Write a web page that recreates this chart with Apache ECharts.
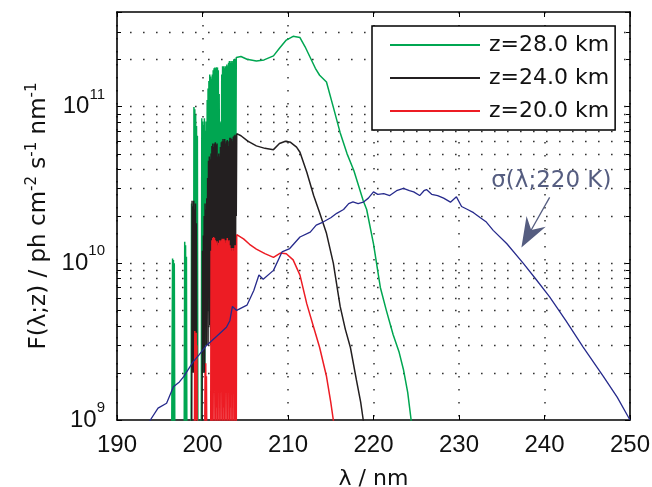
<!DOCTYPE html>
<html><head><meta charset="utf-8">
<script src="https://cdn.jsdelivr.net/npm/echarts@6/dist/echarts.min.js"></script>
<style>html,body{margin:0;padding:0;background:#fff}#c{width:652px;height:487px}</style>
</head><body><div id="c"></div>
<script>
// ---- data (λ in nm, flux in ph cm^-2 s^-1 nm^-1) ----
const xTicks = [190, 200, 210, 220, 230, 240, 250];
const yTicks = [1e9, 1e10, 1e11];
const gridY = [2e9,3e9,4e9,5e9,6e9,7e9,8e9,9e9,1e10,2e10,3e10,4e10,5e10,6e10,7e10,8e10,9e10,1e11,2e11,3e11];
const seriesNames = ['z=28.0 km', 'z=24.0 km', 'z=20.0 km'];

const green = [
 [196.40,8e8],[196.50,1.07e10],[196.55,8e8],[196.60,1.05e10],[196.65,9e8],[196.70,1.0e10],[196.76,8e8],
 [197.86,8e8],[197.92,1.37e10],[197.97,8e8],[198.02,1.3e10],[198.07,9e8],[198.12,1.1e10],[198.17,8e8],
 [198.66,8e8],[198.72,2.4e10],[198.77,4e9],[198.82,2.3e10],[198.88,6e9],[198.92,1.9e10],[198.96,3e9],
 [199.00,9.9e10],[199.05,4e9],[199.10,9.6e10],[199.15,3e9],[199.20,8.8e10],[199.25,5e9],[199.30,7.5e10],[199.36,3e9],[199.40,6.5e10],[199.46,8e8],
 [199.86,8e8],[199.92,8.4e10],[199.97,3e9],[200.02,8e10],[200.07,2e9],[200.12,7.6e10],[200.17,4e9],[200.22,8.4e10],[200.27,2e9],[200.32,7e10],[200.37,3e9],[200.42,8e10],[200.47,5e9],
 [200.55,1.1e11],[200.60,8e9],[200.65,1.3e11],[200.70,5e9],[200.75,1.45e11],[200.80,1e10],[200.85,1.6e11],[200.90,6e9],[200.95,1.55e11],[201.00,2e10],[201.05,1.5e11],[201.10,8e9],[201.15,1.6e11],[201.20,3e10],[201.25,1.7e11],[201.30,1e10],[201.35,1.75e11],[201.40,2e10],[201.45,1.77e11],[201.50,8e9],[201.55,1.75e11],[201.60,4e10],[201.65,1.78e11],[201.70,1.5e10],[201.75,1.77e11],[201.80,3e10],[201.85,1.7e11],[201.90,1e10],[201.95,1.2e11],[202.00,2e10],[202.05,7.8e10],[202.10,1.5e10],[202.15,8e10],[202.20,2e10],[202.25,1.6e11],[202.30,2.5e10],[202.35,1.8e11],[202.40,1e10],[202.45,1.8e11],[202.50,3e10],[202.55,1.75e11],[202.60,1.2e10],[202.65,1.8e11],[202.70,4e10],[202.75,1.8e11],[202.80,1.5e10],[202.85,1.85e11],[202.90,3e10],[202.95,1.8e11],[203.00,2e10],[203.05,1.9e11],[203.10,4e10],[203.15,1.95e11],[203.20,1.2e10],[203.25,1.9e11],[203.30,3e10],[203.35,1.95e11],[203.40,1.8e10],[203.45,1.9e11],[203.50,5e10],[203.55,1.95e11],[203.60,2e10],[203.65,2e11],[203.70,3.5e10],[203.75,2e11],[203.80,1.5e10],[203.85,2e11],[203.90,4e10],[203.95,2.05e11],
 [204.0,2.06e11],[204.5,2.08e11],[205.2,2.0e11],[206.3,1.95e11],[207.2,1.98e11],[208.3,2.1e11],[209.0,2.35e11],[209.8,2.65e11],[210.6,2.8e11],[211.4,2.75e11],[212.0,2.4e11],[212.6,2.05e11],[213.2,1.75e11],[213.7,1.58e11],[214.5,1.43e11],[215.3,9.9e10],[216.1,6.8e10],[216.9,5.0e10],[217.7,3.9e10],[218.8,2.5e10],[219.2,2.2e10],[220.0,1.33e10],[220.8,7.0e9],[221.5,5.0e9],[222.3,3.5e9],[223.0,2.7e9],[223.5,2.1e9],[224.0,1.5e9],[224.4,1.0e9],[224.6,8e8]
];

const black = [
 [198.74,8e8],[198.78,2.5e10],[198.83,3e9],[198.88,2.3e10],[198.93,2e9],[198.98,2.5e10],[199.03,4e9],[199.08,2.2e10],[199.13,2e9],[199.18,2.4e10],[199.23,3e9],[199.28,1.8e10],[199.33,8e8],
 [199.95,8e8],[200.00,1.2e10],[200.05,2e9],[200.10,1.5e10],[200.15,3e9],[200.20,2.0e10],[200.25,2e9],[200.30,2.4e10],[200.35,4e9],[200.40,2.2e10],[200.45,3e9],[200.50,2.6e10],[200.55,5e9],[200.60,3.5e10],[200.65,3e9],[200.70,4.5e10],[200.75,6e9],[200.80,4.8e10],[200.85,4e9],[200.90,4.6e10],[200.95,3e9],[201.00,5.0e10],[201.05,5e9],[201.10,5.6e10],[201.15,3e9],[201.20,5.8e10],[201.25,8e9],[201.30,5.5e10],[201.35,2e9],[201.40,5.8e10],[201.45,6e9],[201.50,5.9e10],[201.55,3e9],[201.60,5.7e10],[201.65,1e10],[201.70,5.8e10],[201.75,4e9],[201.80,4.8e10],[201.85,2e9],[201.90,5.0e10],[201.95,7e9],[202.00,4.8e10],[202.05,3e9],[202.10,5.5e10],[202.15,6e9],[202.20,5.9e10],[202.25,2e9],[202.30,6.0e10],[202.35,8e9],[202.40,6.2e10],[202.45,3e9],[202.50,6.0e10],[202.55,5e9],[202.60,6.2e10],[202.65,2e9],[202.70,5.8e10],[202.75,9e9],[202.80,6.0e10],[202.85,4e9],[202.90,6.1e10],[202.95,2e9],[203.00,5.6e10],[203.05,7e9],[203.10,6.0e10],[203.15,3e9],[203.20,6.3e10],[203.25,1e10],[203.30,6.3e10],[203.35,4e9],[203.40,6.2e10],[203.45,2e9],[203.50,6.0e10],[203.55,6e9],[203.60,6.4e10],[203.65,3e9],[203.70,6.5e10],[203.75,8e9],[203.80,6.6e10],[203.85,4e9],[203.90,6.5e10],[203.95,2e10],
 [204.0,6.7e10],[204.5,6.5e10],[205.3,6.0e10],[206.3,5.6e10],[207.3,5.4e10],[208.3,5.3e10],[209.0,5.8e10],[209.7,6.0e10],[210.3,5.9e10],[211.0,5.5e10],[211.4,5.1e10],[212.2,3.8e10],[213.0,2.7e10],[213.7,2.1e10],[214.5,1.55e10],[215.3,1.0e10],[216.1,5.3e9],[216.7,3.8e9],[217.3,2.9e9],[218.0,1.8e9],[218.5,1.3e9],[218.8,1.0e9],[219.0,8e8]
];

const red = [
 [199.06,8e8],[199.10,3.7e9],[199.14,8e8],[199.18,3.5e9],[199.22,1e9],[199.26,3.6e9],[199.30,1.2e9],[199.34,3.0e9],[199.38,8e8],
 [200.26,8e8],[200.30,2.0e9],[200.34,8e8],[200.38,2.3e9],[200.42,8e8],[200.46,1.9e9],[200.50,8e8],
 [200.96,8e8],[201.00,1.2e10],[201.05,9e8],[201.10,1.4e10],[201.15,8e8],[201.20,1.45e10],[201.25,1.5e9],[201.30,1.47e10],[201.35,8e8],[201.40,1.45e10],[201.45,2e9],[201.50,1.4e10],[201.55,8e8],[201.60,1.35e10],[201.65,1.2e9],[201.70,1.38e10],[201.75,8e8],[201.80,1.3e10],[201.85,2.5e9],[201.90,1.35e10],[201.95,8e8],[202.00,1.4e10],[202.05,1.5e9],[202.10,1.38e10],[202.15,8e8],[202.20,1.4e10],[202.25,3e9],[202.30,1.43e10],[202.35,8e8],[202.40,1.42e10],[202.45,1.2e9],[202.50,1.43e10],[202.55,8e8],[202.60,1.4e10],[202.65,2e9],[202.70,1.35e10],[202.75,8e8],[202.80,1.4e10],[202.85,1.5e9],[202.90,1.45e10],[202.95,8e8],[203.00,1.38e10],[203.05,2.5e9],[203.10,1.4e10],[203.15,8e8],[203.20,1.3e10],[203.25,1.2e9],[203.30,1.25e10],[203.35,8e8],[203.40,1.2e10],[203.45,2e9],[203.50,1.25e10],[203.55,8e8],[203.60,1.2e10],[203.65,1.5e9],[203.70,1.25e10],[203.75,8e8],[203.80,1.3e10],[203.85,1e9],[203.90,1.3e10],[203.95,8e8],
 [204.0,1.52e10],[204.8,1.43e10],[205.5,1.32e10],[206.3,1.23e10],[207.3,1.15e10],[208.3,1.09e10],[209.1,1.16e10],[209.8,1.15e10],[210.6,1.05e10],[211.4,8.4e9],[212.2,5.5e9],[213.0,3.9e9],[213.7,2.9e9],[214.5,1.9e9],[215.0,1.3e9],[215.3,1.0e9],[215.5,8e8]
];

const sigma = [
 [193.5,9e8],[193.9,1.0e9],[194.8,1.19e9],[195.8,1.28e9],[196.6,1.63e9],[197.3,1.75e9],[197.8,1.89e9],[198.9,2.35e9],[199.6,2.6e9],[200.5,3.0e9],[201.6,3.4e9],[202.8,3.9e9],[203.2,4.3e9],[203.5,5.3e9],[204.0,5.0e9],[205.2,5.4e9],[206.0,6.7e9],[206.6,8.4e9],[207.1,7.9e9],[208.3,9.0e9],[209.3,1.18e10],[210.2,1.24e10],[211.4,1.47e10],[212.6,1.58e10],[213.3,1.75e10],[214.1,1.83e10],[215.0,1.95e10],[215.7,2.08e10],[216.5,2.2e10],[217.1,2.4e10],[217.6,2.46e10],[218.2,2.4e10],[218.8,2.45e10],[219.4,2.6e10],[220.0,2.85e10],[220.5,2.75e10],[221.2,2.78e10],[221.9,2.7e10],[222.7,2.9e10],[223.5,3.0e10],[224.2,2.9e10],[224.7,2.85e10],[225.4,2.7e10],[225.9,2.9e10],[226.2,2.95e10],[226.8,2.75e10],[227.5,2.7e10],[228.2,2.6e10],[229.0,2.45e10],[229.7,2.65e10],[230.3,2.3e10],[231.0,2.2e10],[231.7,2.1e10],[232.5,1.95e10],[233.2,1.83e10],[234.0,1.62e10],[235.6,1.33e10],[237.5,1.0e10],[239.0,7.9e9],[240.6,6.1e9],[242.5,4.3e9],[244.5,2.93e9],[246.9,1.89e9],[248.5,1.4e9],[250.0,1.0e9]
];

const annText = 'σ(λ;220 K)';
const annTextAt = [240.8, 3.34e10];
const annArrowFrom = [240.6, 2.63e10];
const annArrowTo = [237.3, 1.26e10];

// ---- chart ----
const chart = echarts.init(document.getElementById('c'), null, {renderer: 'canvas'});
const AX = 'Liberation Sans, Arial, sans-serif';
const TX = 'DejaVu Sans, sans-serif';
const supRich = {
  base: {fontFamily: AX, fontSize: 24, color: '#111'},
  sup: {fontFamily: AX, fontSize: 15, color: '#111', padding: [0, 0, 24, 0]}
};
const dotDash = [1.6, 11.4];
const cols = ['#00a651', '#231f20', '#ed1c24'];

function yLabel(v) {
  const e = Math.log10(v);
  const r = Math.round(e);
  if (Math.abs(e - r) > 1e-6) return '';
  return '{base|10}{sup|' + r + '}';
}

const option = {
  animation: false,
  backgroundColor: '#fff',
  grid: {left: 117, top: 12, right: 22, bottom: 67, containLabel: false, outerBoundsMode: 'none'},
  legend: {
    data: seriesNames,
    orient: 'vertical',
    left: 372, top: 26,
    padding: [7, 6, 7, 18],
    itemGap: 9,
    itemWidth: 90, itemHeight: 2,
    icon: 'rect',
    backgroundColor: '#fff',
    borderColor: '#000', borderWidth: 1.5,
    textStyle: {fontFamily: TX, fontSize: 22, color: '#111', lineHeight: 24, padding: [0, 0, 0, 4]}
  },
  xAxis: [{
    type: 'value', min: 190, max: 250, interval: 10, position: 'bottom',
    name: 'λ / nm', nameLocation: 'middle', nameGap: 48,
    nameTextStyle: {fontFamily: TX, fontSize: 22, color: '#111'},
    axisLine: {show: true, lineStyle: {color: '#000', width: 1.6}},
    axisTick: {show: true, inside: true, length: 5, lineStyle: {color: '#000', width: 1}},
    axisLabel: {fontFamily: AX, fontSize: 24, color: '#111', margin: 13},
    splitLine: {show: true, lineStyle: {color: '#333', width: 1.5, type: dotDash}}
  }, {
    type: 'value', min: 190, max: 250, interval: 10, position: 'top',
    axisLine: {show: true, lineStyle: {color: '#000', width: 1.6}},
    axisTick: {show: true, inside: true, length: 5, lineStyle: {color: '#000', width: 1}},
    axisLabel: {show: false}, splitLine: {show: false}
  }],
  yAxis: [{
    type: 'log', logBase: 10, min: 1e9, max: 4e11, position: 'left',
    name: 'F(λ;z) / ph cm{sup|-2} s{sup|-1} nm{sup|-1}',
    nameLocation: 'middle', nameGap: 62, nameRotate: 90,
    nameTextStyle: {fontFamily: TX, fontSize: 23, color: '#111', rich: {sup: {fontFamily: TX, fontSize: 15, color: '#111', padding: [0, 0, 15, 0]}}},
    axisLine: {show: true, lineStyle: {color: '#000', width: 1.6}},
    axisTick: {show: true, inside: true, length: 5, lineStyle: {color: '#000', width: 1}},
    axisLabel: {formatter: yLabel, margin: 12, rich: supRich},
    splitLine: {show: false}
  }, {
    type: 'log', logBase: 10, min: 1e9, max: 4e11, position: 'right',
    axisLine: {show: true, lineStyle: {color: '#000', width: 1.6}},
    axisTick: {show: true, inside: true, length: 5, lineStyle: {color: '#000', width: 1}},
    axisLabel: {show: false}, splitLine: {show: false}
  }],
  series: [
    {
      type: 'custom', name: 'grid', silent: true, z: 1, clip: false,
      data: gridY.map(v => [190, v]),
      renderItem: function (params, api) {
        const v = api.value(1);
        const p1 = api.coord([190, v]);
        const p2 = api.coord([250, v]);
        const y = Math.round(p1[1]) + 0.5;
        return {type: 'group', children: [
          {type: 'line', shape: {x1: p1[0] + 13, y1: y, x2: p2[0] - 4, y2: y},
           style: {stroke: '#333', lineWidth: 1.5, lineDash: dotDash}},
          {type: 'line', shape: {x1: p1[0], y1: y, x2: p1[0] + 4, y2: y}, style: {stroke: '#000', lineWidth: 1}},
          {type: 'line', shape: {x1: p2[0] - 4, y1: y, x2: p2[0], y2: y}, style: {stroke: '#000', lineWidth: 1}}
        ]};
      }
    },
    {name: seriesNames[0], type: 'line', data: green, symbol: 'none', z: 3,
     lineStyle: {color: cols[0], width: 1.5}, itemStyle: {color: cols[0]}},
    {name: seriesNames[1], type: 'line', data: black, symbol: 'none', z: 3,
     lineStyle: {color: cols[1], width: 1.5}, itemStyle: {color: cols[1]}},
    {name: seriesNames[2], type: 'line', data: red, symbol: 'none', z: 3,
     lineStyle: {color: cols[2], width: 1.5}, itemStyle: {color: cols[2]}},
    {name: 'sigma', type: 'line', data: sigma, symbol: 'none', z: 4,
     lineStyle: {color: '#262a8c', width: 1.3}, itemStyle: {color: '#262a8c'}}
  ]
};
chart.setOption(option);

// annotation anchored in data coordinates
const tp = chart.convertToPixel({xAxisIndex: 0, yAxisIndex: 0}, annTextAt);
const a0 = chart.convertToPixel({xAxisIndex: 0, yAxisIndex: 0}, annArrowFrom);
const a1 = chart.convertToPixel({xAxisIndex: 0, yAxisIndex: 0}, annArrowTo);
const dx = a1[0] - a0[0], dy = a1[1] - a0[1];
const L = Math.hypot(dx, dy), ux = dx / L, uy = dy / L, nx = -uy, ny = ux;
const hl = 30, hw = 11, notch = 20;
const bx = a1[0] - hl * ux, by = a1[1] - hl * uy;
const annColor = '#555d80';
chart.setOption({graphic: [
  {type: 'text', x: tp[0], y: tp[1], z: 10,
   style: {text: annText, fill: annColor, font: '23px "DejaVu Sans"', textAlign: 'center', textVerticalAlign: 'middle'}},
  {type: 'line', z: 10, shape: {x1: a0[0], y1: a0[1], x2: a1[0] - notch * ux, y2: a1[1] - notch * uy},
   style: {stroke: annColor, lineWidth: 1.3}},
  {type: 'polygon', z: 10, shape: {points: [
    [a1[0], a1[1]], [bx + hw * nx, by + hw * ny], [a1[0] - notch * ux, a1[1] - notch * uy], [bx - hw * nx, by - hw * ny]
  ]}, style: {fill: annColor}}
]});
</script>
</body></html>
